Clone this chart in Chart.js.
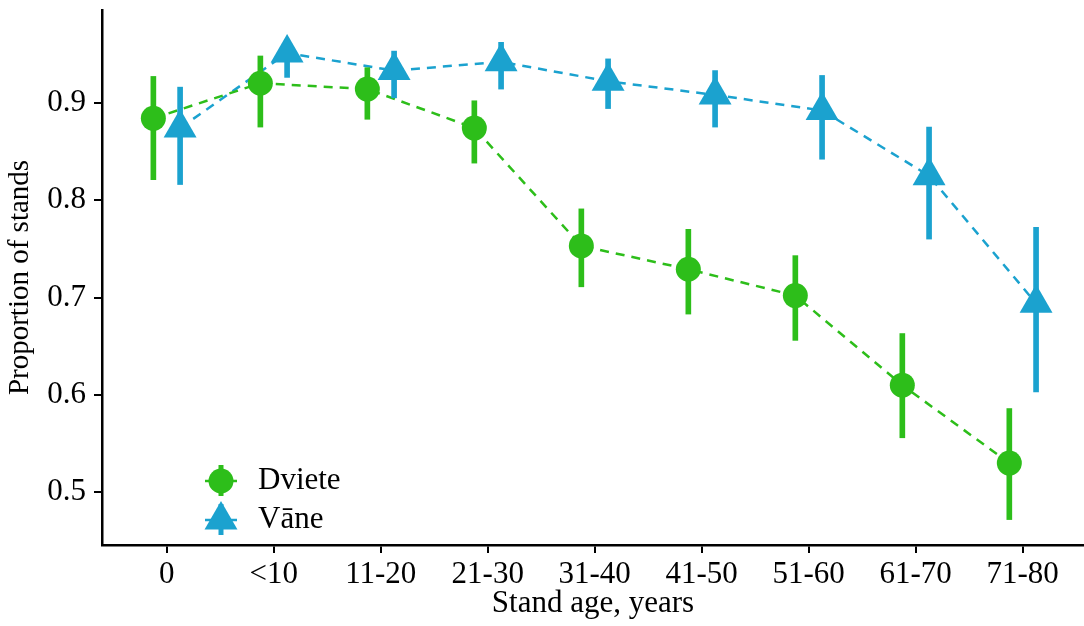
<!DOCTYPE html>
<html>
<head>
<meta charset="utf-8">
<script src="https://cdn.jsdelivr.net/npm/chart.js@4.4.1/dist/chart.umd.min.js"></script>
<style>
  html, body { margin: 0; padding: 0; background: #fff; }
  #wrap { width: 1084px; height: 626px; position: relative; }
</style>
</head>
<body>
<div id="wrap"><canvas id="c"></canvas></div>
<script>
// ---- data ----
const categories = ['0', '<10', '11-20', '21-30', '31-40', '41-50', '51-60', '61-70', '71-80'];
const yTicks = [0.5, 0.6, 0.7, 0.8, 0.9];

const dvieteMean  = [0.884, 0.920, 0.914, 0.874, 0.753, 0.729, 0.702, 0.610, 0.530];
const dvieteLower = [0.821, 0.875, 0.883, 0.838, 0.711, 0.683, 0.656, 0.556, 0.472];
const dvieteUpper = [0.927, 0.948, 0.936, 0.902, 0.791, 0.770, 0.743, 0.663, 0.586];

const vaneMean  = [0.874, 0.951, 0.933, 0.942, 0.922, 0.908, 0.892, 0.825, 0.694];
const vaneLower = [0.816, 0.926, 0.905, 0.914, 0.894, 0.875, 0.842, 0.760, 0.603];
const vaneUpper = [0.916, 0.965, 0.953, 0.962, 0.945, 0.933, 0.928, 0.875, 0.772];

const seriesNames = ['Dviete', 'V\u0101ne'];

// ---- styles ----
const GREEN = 'rgb(45,190,26)';
const BLUE = 'rgb(27,162,207)';
const DODGE = 0.125;
const FONT = "'Liberation Serif', 'Times New Roman', serif";
const FS = 31;

function pts(vals, off) { return vals.map((v, i) => ({ x: i + off, y: v })); }
function bars(lo, hi, off) { return lo.map((v, i) => ({ x: i + off, y: [v, hi[i]] })); }

const legendPlugin = {
  id: 'customLegend',
  afterDraw(chart) {
    const ctx = chart.ctx;
    const items = [
      { name: seriesNames[0], color: GREEN, style: 'circle', y: 481 },
      { name: seriesNames[1], color: BLUE, style: 'triangle', y: 520 }
    ];
    const cx = 221;
    ctx.save();
    items.forEach(it => {
      ctx.strokeStyle = it.color;
      ctx.fillStyle = it.color;
      ctx.lineWidth = 2.5;
      ctx.beginPath();
      ctx.moveTo(cx - 16, it.y); ctx.lineTo(cx + 16, it.y);
      ctx.stroke();
      ctx.lineWidth = 5;
      ctx.beginPath();
      ctx.moveTo(cx, it.y - 16); ctx.lineTo(cx, it.y + 15);
      ctx.stroke();
      ctx.beginPath();
      if (it.style === 'circle') {
        ctx.arc(cx, it.y, 12.5, 0, Math.PI * 2);
      } else {
        const r = 19;
        for (let k = 0; k < 3; k++) {
          const a = k * 2 * Math.PI / 3;
          const px = cx + Math.sin(a) * r, py = it.y - Math.cos(a) * r;
          if (k === 0) ctx.moveTo(px, py); else ctx.lineTo(px, py);
        }
        ctx.closePath();
      }
      ctx.fill();
      ctx.fillStyle = '#000';
      ctx.font = FS + 'px ' + FONT;
      ctx.textAlign = 'left';
      ctx.textBaseline = 'middle';
      ctx.fillText(it.name, 258, it.y);
    });
    ctx.restore();
  }
};

new Chart(document.getElementById('c'), {
  type: 'scatter',
  data: {
    datasets: [
      { type: 'line', label: seriesNames[0], data: pts(dvieteMean, -DODGE), borderColor: GREEN, borderWidth: 2.5, borderDash: [9, 7], pointRadius: 0, fill: false, order: 10 },
      { type: 'line', label: seriesNames[1], data: pts(vaneMean, DODGE), borderColor: BLUE, borderWidth: 2.5, borderDash: [9, 7], pointRadius: 0, fill: false, order: 10 },
      { type: 'bar', label: seriesNames[0] + ' CI', data: bars(dvieteLower, dvieteUpper, -DODGE), backgroundColor: GREEN, borderWidth: 0, barThickness: 5, grouped: false, order: 5 },
      { type: 'bar', label: seriesNames[1] + ' CI', data: bars(vaneLower, vaneUpper, DODGE), backgroundColor: BLUE, borderWidth: 0, barThickness: 5, grouped: false, order: 5 },
      { type: 'scatter', label: seriesNames[0], data: pts(dvieteMean, -DODGE), backgroundColor: GREEN, borderWidth: 0, pointStyle: 'circle', pointRadius: 12.5, order: 0 },
      { type: 'scatter', label: seriesNames[1], data: pts(vaneMean, DODGE), backgroundColor: BLUE, borderWidth: 0, pointStyle: 'triangle', pointRadius: 19, order: 0 }
    ]
  },
  options: {
    responsive: true,
    maintainAspectRatio: false,
    animation: false,
    layout: { autoPadding: false, padding: { top: 10, left: 0, right: 0, bottom: 0 } },
    plugins: { legend: { display: false }, tooltip: { enabled: false } },
    scales: {
      x: {
        type: 'linear',
        offset: false,
        min: -0.605,
        max: 8.573,
        afterFit(s) { s.height = 81; s.paddingLeft = 0; s.paddingRight = 0; },
        afterBuildTicks(s) { s.ticks = categories.map((c, i) => ({ value: i })); },
        ticks: { callback: (v) => categories[v], color: '#000', font: { family: FONT, size: FS }, padding: 3, maxRotation: 0, autoSkip: false },
        grid: { display: true, offset: false, drawOnChartArea: false, drawTicks: true, tickLength: 8, color: '#000', lineWidth: 2 },
        border: { display: true, color: '#000', width: 2.5 },
        title: { display: true, text: 'Stand age, years', color: '#000', font: { family: FONT, size: FS, lineHeight: 1 }, padding: { top: 0, bottom: 7 } }
      },
      y: {
        type: 'linear',
        min: 0.4459,
        max: 0.9952,
        afterFit(s) { s.width = 102; s.paddingTop = 0; s.paddingBottom = 0; },
        afterBuildTicks(s) { s.ticks = yTicks.map(v => ({ value: v })); },
        ticks: { callback: (v) => v.toFixed(1), color: '#000', font: { family: FONT, size: FS }, padding: 8 },
        grid: { display: true, drawOnChartArea: false, drawTicks: true, tickLength: 8, color: '#000', lineWidth: 2 },
        border: { display: true, color: '#000', width: 2.5 },
        title: { display: true, text: 'Proportion of stands', color: '#000', font: { family: FONT, size: 29, lineHeight: 1 }, padding: { top: 6, bottom: 0 } }
      }
    }
  },
  plugins: [legendPlugin]
});
</script>
</body>
</html>
